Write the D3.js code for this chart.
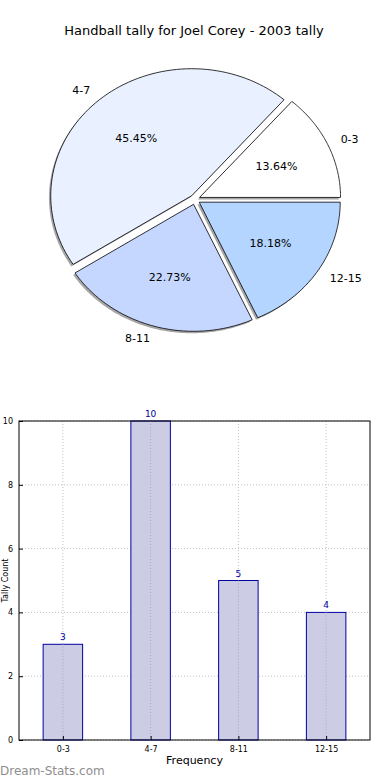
<!DOCTYPE html>
<html><head><meta charset="utf-8">
<script src="https://cdn.jsdelivr.net/npm/d3@7"></script>
<style>
body{margin:0;background:#fff;}
svg{display:block;font-family:"DejaVu Sans",sans-serif;}
</style></head>
<body>
<svg id="c" width="390" height="780"></svg>
<script>
const title = "Handball tally for Joel Corey - 2003 tally";
const categories = ["0-3", "4-7", "8-11", "12-15"];
const values = [3, 10, 5, 4];
const pieColors = ["#ffffff", "#e9f0ff", "#c5d7ff", "#b4d5ff"];
const yTicks = [0, 2, 4, 6, 8, 10];
const xLabel = "Frequency";
const yLabel = "Tally Count";
const watermark = "Dream-Stats.com";

const svg = d3.select("#c");

// Title
svg.append("text").attr("x", 194).attr("y", 35).attr("text-anchor", "middle")
  .attr("font-size", 13).attr("fill", "#000").text(title);

// ---------- Pie ----------
const cx = 195, cy = 199.5, rx = 141, ry = 127, explode = 5;
const total = d3.sum(values);
const pie = d3.pie().sort(null).value(d => d)
  .startAngle(0).endAngle(2 * Math.PI);
const arcs = pie(values);
function pt(theta, kx, ky, ox, oy) {
  return [ox + kx * Math.cos(theta), oy - ky * Math.sin(theta)];
}
function wedgePath(a0, a1, ox, oy) {
  const n = 80;
  const pts = [[ox, oy]];
  for (let i = 0; i <= n; i++) {
    const t = a0 + (a1 - a0) * i / n;
    pts.push(pt(t, rx, ry, ox, oy));
  }
  return d3.line()(pts) + "Z";
}
const slices = arcs.map((a, i) => {
  const a0 = a.startAngle, a1 = a.endAngle, mid = (a0 + a1) / 2;
  const ox = cx + explode * Math.cos(mid), oy = cy - explode * Math.sin(mid);
  return {a0, a1, mid, ox, oy, i, v: a.data};
});
const gShadow = svg.append("g");
slices.forEach(s => {
  gShadow.append("path").attr("d", wedgePath(s.a0, s.a1, s.ox - 1.8, s.oy + 2))
    .attr("fill", "#808080").attr("opacity", 0.7);
});
const gPie = svg.append("g");
slices.forEach(s => {
  gPie.append("path").attr("d", wedgePath(s.a0, s.a1, s.ox, s.oy))
    .attr("fill", pieColors[s.i]).attr("stroke", "#000").attr("stroke-width", 0.8)
    .attr("stroke-linejoin", "miter");
});
slices.forEach(s => {
  const [px, py] = pt(s.mid, 0.6 * rx, 0.6 * ry, s.ox, s.oy);
  svg.append("text").attr("x", px).attr("y", py).attr("dy", "0.35em")
    .attr("text-anchor", "middle").attr("font-size", 11).attr("fill", "#000")
    .text((100 * s.v / total).toFixed(2) + "%");
  const [lx, ly] = pt(s.mid, 1.1 * rx, 1.1 * ry, s.ox, s.oy);
  const c = Math.cos(s.mid);
  svg.append("text").attr("x", lx).attr("y", ly).attr("dy", "0.35em")
    .attr("text-anchor", c > 0 ? "start" : "end").attr("font-size", 11).attr("fill", "#000")
    .text(categories[s.i]);
});

// ---------- Bar chart ----------
const L = 19, R = 370, T = 421, B = 740;
const x = d3.scaleLinear().domain([-0.5, categories.length - 0.5]).range([L, R]);
const y = d3.scaleLinear().domain([0, 10]).range([B, T]);
const bw = 0.45;
const gGrid = svg.append("g");
yTicks.forEach(t => {
  gGrid.append("line").attr("x1", L).attr("x2", R).attr("y1", y(t)).attr("y2", y(t))
    .attr("stroke", "#c0c0c0").attr("stroke-dasharray", "1,2").attr("stroke-width", 1);
});
categories.forEach((c, i) => {
  gGrid.append("line").attr("x1", x(i)).attr("x2", x(i)).attr("y1", T).attr("y2", B)
    .attr("stroke", "#c0c0c0").attr("stroke-dasharray", "1,2").attr("stroke-width", 1);
});
svg.append("g").selectAll("rect").data(values).join("rect")
  .attr("x", (d, i) => x(i - bw / 2)).attr("width", x(bw) - x(0))
  .attr("y", d => y(d)).attr("height", d => y(0) - y(d))
  .attr("fill", "#ccccE5").attr("stroke", "#0000a0").attr("stroke-width", 1);
categories.forEach((c, i) => {
  svg.append("line").attr("x1", x(i)).attr("x2", x(i)).attr("y1", y(values[i])).attr("y2", B)
    .attr("stroke", "#a8a8b8").attr("stroke-dasharray", "1,2").attr("stroke-width", 1);
});
svg.append("g").selectAll("text.v").data(values).join("text")
  .attr("x", (d, i) => x(i)).attr("y", d => y(d) - 4).attr("text-anchor", "middle")
  .attr("font-size", 9).attr("fill", "#0000a0").text(d => d);

const yAxis = d3.axisLeft(y).tickValues(yTicks).tickSize(-4).tickPadding(6).tickFormat(d3.format("d"));
const gy = svg.append("g").attr("transform", `translate(${L},0)`).call(yAxis);
gy.selectAll("text").attr("font-size", 8).attr("font-family", "DejaVu Sans").attr("fill", "#000");
gy.select(".domain").remove();
const xAxis = d3.axisBottom(x).tickValues(d3.range(categories.length)).tickSize(-4).tickPadding(6)
  .tickFormat(i => categories[i]);
const gx = svg.append("g").attr("transform", `translate(0,${B})`).call(xAxis);
gx.selectAll("text").attr("font-size", 8).attr("font-family", "DejaVu Sans").attr("fill", "#000");
gx.select(".domain").remove();
svg.append("rect").attr("x", L).attr("y", T).attr("width", R - L).attr("height", B - T)
  .attr("fill", "none").attr("stroke", "#000").attr("stroke-width", 1);

svg.append("text").attr("x", (L + R) / 2).attr("y", 764).attr("text-anchor", "middle")
  .attr("font-size", 11).attr("fill", "#000").text(xLabel);
svg.append("text").attr("transform", `translate(8,${(T + B) / 2}) rotate(-90)`)
  .attr("text-anchor", "middle").attr("font-size", 8).attr("fill", "#000").text(yLabel);
svg.append("text").attr("x", 0).attr("y", 775).attr("font-size", 12)
  .attr("fill", "#8e8e8e").text(watermark);
</script>
</body></html>
